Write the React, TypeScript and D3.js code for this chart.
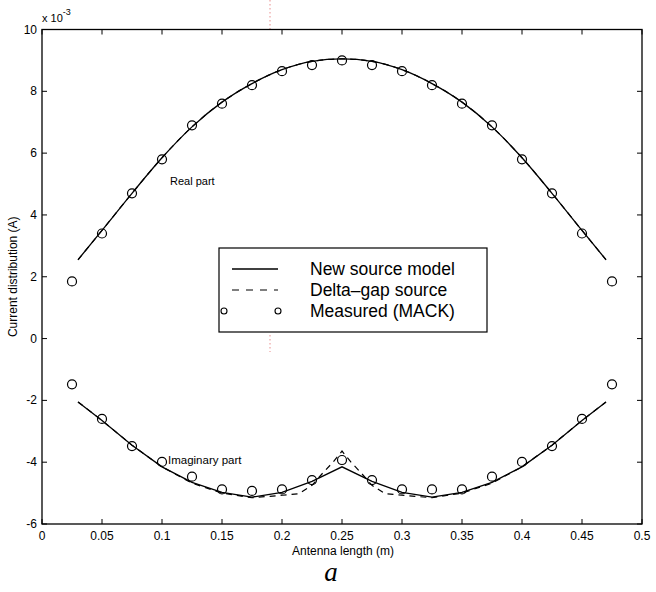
import React from "react";
import * as d3 from "d3";

// ---------- data (values in units of 1e-3 A) ----------
const xTicks = [0, 0.05, 0.1, 0.15, 0.2, 0.25, 0.3, 0.35, 0.4, 0.45, 0.5];
const xTickLabels = ["0", "0.05", "0.1", "0.15", "0.2", "0.25", "0.3", "0.35", "0.4", "0.45", "0.5"];
const yTicks = [-6, -4, -2, 0, 2, 4, 6, 8, 10];
const yTickLabels = ["-6", "-4", "-2", "0", "2", "4", "6", "8", "10"];

const measuredX = [0.025, 0.05, 0.075, 0.1, 0.125, 0.15, 0.175, 0.2, 0.225, 0.25, 0.275, 0.3, 0.325, 0.35, 0.375, 0.4, 0.425, 0.45, 0.475];
const measuredReal = [1.85, 3.4, 4.7, 5.8, 6.9, 7.6, 8.2, 8.65, 8.85, 9.0, 8.85, 8.65, 8.2, 7.6, 6.9, 5.8, 4.7, 3.4, 1.85];
const measuredImag = [-1.48, -2.6, -3.48, -3.99, -4.47, -4.88, -4.93, -4.88, -4.58, -3.93, -4.58, -4.88, -4.88, -4.88, -4.47, -3.99, -3.48, -2.6, -1.48];

const modelX = [0.03, 0.05, 0.075, 0.1, 0.125, 0.15, 0.175, 0.2, 0.225, 0.25, 0.275, 0.3, 0.325, 0.35, 0.375, 0.4, 0.425, 0.45, 0.47];
const newReal = [2.55, 3.5, 4.7, 5.85, 6.85, 7.65, 8.25, 8.7, 8.97, 9.05, 8.97, 8.7, 8.25, 7.65, 6.85, 5.85, 4.7, 3.5, 2.55];
const newImag = [-2.05, -2.65, -3.45, -4.15, -4.65, -4.98, -5.13, -4.98, -4.62, -4.15, -4.62, -4.98, -5.13, -4.98, -4.65, -4.15, -3.45, -2.65, -2.05];

const deltaRealX = modelX;
const deltaReal = [2.55, 3.5, 4.7, 5.85, 6.85, 7.65, 8.25, 8.7, 8.97, 9.05, 8.97, 8.7, 8.25, 7.65, 6.85, 5.85, 4.7, 3.5, 2.55];
const deltaImagX = [0.03, 0.05, 0.075, 0.1, 0.125, 0.15, 0.175, 0.2, 0.214, 0.225, 0.234, 0.2425, 0.25, 0.2575, 0.266, 0.275, 0.286, 0.3, 0.325, 0.35, 0.375, 0.4, 0.425, 0.45, 0.47];
const deltaImag = [-2.05, -2.65, -3.45, -4.15, -4.68, -5.0, -5.15, -5.07, -5.02, -4.75, -4.35, -4.0, -3.64, -4.0, -4.35, -4.75, -5.02, -5.07, -5.15, -5.0, -4.68, -4.15, -3.45, -2.65, -2.05];

const legendLabels = ["New source model", "Delta\u2013gap source", "Measured (MACK)"];

const W = 656;
const H = 592;
const FONT = "'Liberation Sans', Arial, Helvetica, sans-serif";

export default function App() {
  const x = d3.scaleLinear().domain([0, 0.5]).range([42, 642]);
  const y = d3.scaleLinear().domain([-6, 10]).range([524, 29.5]);
  const [x0, x1] = x.range();
  const [y0, y1] = y.range();

  const line = (xs: number[], ys: number[]) =>
    d3.line<number>().x((_, i) => x(xs[i])).y((v) => y(v)).curve(d3.curveMonotoneX)(ys) || "";
  const lineLin = (xs: number[], ys: number[]) =>
    d3.line<number>().x((_, i) => x(xs[i])).y((v) => y(v))(ys) || "";

  const tickLen = 5;
  const lx = 219, ly = 248, lw = 268, lh = 84;
  const rows = [269, 290, 311];

  return (
    <div style={{ position: "absolute", left: 0, top: 0, width: W, height: H, background: "#fff" }}>
      <svg width={W} height={H} viewBox={`0 0 ${W} ${H}`} style={{ display: "block" }}>
        <rect width={W} height={H} fill="#fff" />

        {/* faint red scan artifact */}
        <line x1={270} x2={270} y1={0} y2={32} stroke="#e06060" strokeWidth={1} strokeDasharray="1.5 2.5" opacity={0.7} />
        <line x1={270} x2={270} y1={335} y2={352} stroke="#e06060" strokeWidth={1} strokeDasharray="1.5 2.5" opacity={0.7} />

        {/* axes box */}
        <rect x={x0} y={y1} width={x1 - x0} height={y0 - y1} fill="none" stroke="#000" strokeWidth={1.3} />

        {/* x ticks */}
        {xTicks.map((t, i) => (
          <g key={"xt" + i}>
            <line x1={x(t)} x2={x(t)} y1={y0} y2={y0 - tickLen} stroke="#000" strokeWidth={1} />
            <line x1={x(t)} x2={x(t)} y1={y1} y2={y1 + tickLen} stroke="#000" strokeWidth={1} />
            <text x={x(t)} y={540} fontFamily={FONT} fontSize={12} textAnchor="middle" fill="#000">
              {xTickLabels[i]}
            </text>
          </g>
        ))}
        {/* y ticks */}
        {yTicks.map((t, i) => (
          <g key={"yt" + i}>
            <line x1={x0} x2={x0 + tickLen} y1={y(t)} y2={y(t)} stroke="#000" strokeWidth={1} />
            <line x1={x1} x2={x1 - tickLen} y1={y(t)} y2={y(t)} stroke="#000" strokeWidth={1} />
            <text x={37} y={y(t) + 4} fontFamily={FONT} fontSize={12} textAnchor="end" fill="#000">
              {yTickLabels[i]}
            </text>
          </g>
        ))}

        {/* exponent */}
        <text x={42} y={22} fontFamily={FONT} fontSize={11} fill="#000">
          x 10
          <tspan dy={-7} fontSize={9}>-3</tspan>
        </text>

        {/* curves */}
        <path d={line(modelX, newReal)} fill="none" stroke="#000" strokeWidth={1.3} />
        <path d={line(deltaRealX, deltaReal)} fill="none" stroke="#000" strokeWidth={1.2} strokeDasharray="6 5" />
        <path d={lineLin(modelX, newImag)} fill="none" stroke="#000" strokeWidth={1.3} />
        <path d={lineLin(deltaImagX, deltaImag)} fill="none" stroke="#000" strokeWidth={1.2} strokeDasharray="6 5" />

        {/* measured */}
        {measuredX.map((v, i) => (
          <circle key={"mr" + i} cx={x(v)} cy={y(measuredReal[i])} r={4.5} fill="none" stroke="#000" strokeWidth={1.2} />
        ))}
        {measuredX.map((v, i) => (
          <circle key={"mi" + i} cx={x(v)} cy={y(measuredImag[i])} r={4.5} fill="none" stroke="#000" strokeWidth={1.2} />
        ))}

        {/* annotations */}
        <text x={170} y={185} fontFamily={FONT} fontSize={11} fill="#000">Real part</text>
        <text x={168} y={464} fontFamily={FONT} fontSize={11.5} fill="#000">Imaginary part</text>

        {/* legend */}
        <rect x={lx} y={ly} width={lw} height={lh} fill="#fff" stroke="#000" strokeWidth={1.2} />
        <line x1={232} x2={278} y1={rows[0]} y2={rows[0]} stroke="#000" strokeWidth={1.3} />
        <line x1={232} x2={278} y1={rows[1]} y2={rows[1]} stroke="#000" strokeWidth={1.2} strokeDasharray="7 7" />
        <circle cx={224} cy={rows[2]} r={3} fill="none" stroke="#000" strokeWidth={1.1} />
        <circle cx={278} cy={rows[2]} r={3} fill="none" stroke="#000" strokeWidth={1.1} />
        {legendLabels.map((s, i) => (
          <text key={"lg" + i} x={310} y={rows[i] + 6} fontFamily={FONT} fontSize={17.5} fill="#000">
            {s}
          </text>
        ))}

        {/* axis labels */}
        <text x={343} y={555} fontFamily={FONT} fontSize={12} textAnchor="middle" fill="#000">
          Antenna length (m)
        </text>
        <text
          transform={`translate(17, ${(y0 + y1) / 2}) rotate(-90)`}
          fontFamily={FONT}
          fontSize={12}
          textAnchor="middle"
          fill="#000"
        >
          Current distribution (A)
        </text>
        <text x={331} y={581} fontFamily="'Liberation Serif', 'Times New Roman', serif" fontStyle="italic" fontSize={27} textAnchor="middle" fill="#000">
          a
        </text>
      </svg>
    </div>
  );
}
